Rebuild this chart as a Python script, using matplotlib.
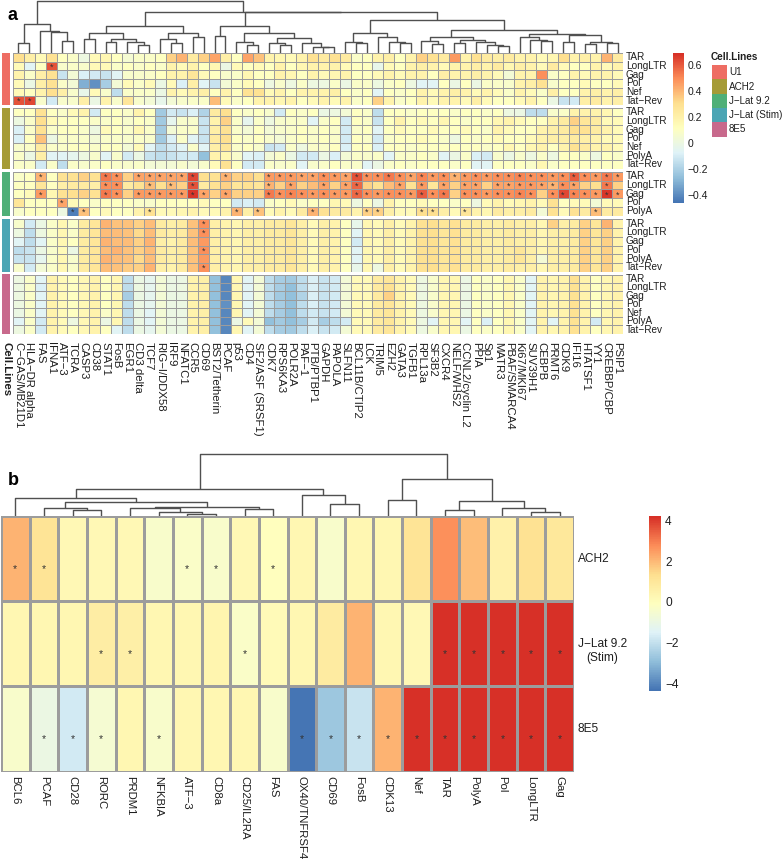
import matplotlib
matplotlib.use('Agg')
import matplotlib.pyplot as plt
from matplotlib.colors import LinearSegmentedColormap, Normalize
from matplotlib.patches import Rectangle
import numpy as np

# ---------------- DATA : panel a ----------------
genes_a = ["C−GAS/MB21D1", "HLA−DR alpha", "FAS", "IFNA1", "ATF−3", "TCRA", "CASP3", "CD38",
           "STAT1", "FosB", "EGR1", "CD3 delta", "TCF7", "RIG−I/DDX58", "IRF9", "NFATC1", "CCR5",
           "CD69", "BST2/Tetherin", "PCAF", "p53", "CD4", "SF2/ASF (SRSF1)", "CDK7", "RPS6KA3",
           "POLR2A", "PAF−1", "PTB/PTBP1", "GAPDH", "PAPOLA", "SLFN11", "BCL11B/CTIP2", "LCK",
           "TRIM5", "EZH2", "GATA3", "TGFB1", "RPL13a", "SF3B2", "CXCR4", "NELF/WHS2",
           "CCNL2/cyclin L2", "PPIA", "Sp1", "MATR3", "PBAF/SMARCA4", "Ki67/MKI67", "SUV39H1",
           "CEBPB", "PRMT6", "CDK9", "IFI16", "HTATSF1", "YY1", "CREBBP/CBP", "PSIP1"]

cell_lines = ["U1", "ACH2", "J−Lat 9.2", "J−Lat (Stim)", "8E5"]
cell_colors = ["#EE6D63", "#A59B37", "#4FAF78", "#4BA5B4", "#C8698C"]

rows_U1 = ["TAR", "LongLTR", "Gag", "Pol", "Nef", "Tat−Rev"]
rows_ACH2 = ["TAR", "LongLTR", "Gag", "Pol", "Nef", "PolyA", "Tat−Rev"]
rows_JLat = ["TAR", "LongLTR", "Gag", "Pol", "PolyA"]
rows_Stim = ["TAR", "LongLTR", "Gag", "Pol", "PolyA", "Tat−Rev"]
rows_8E5 = ["TAR", "LongLTR", "Gag", "Pol", "Nef", "PolyA", "Tat−Rev"]

vals_U1 = [
 [0.32,0.22,0.15,0.3,0.12,0.1,0.02,0.15,0.18,0.12,0.06,0.1,0.1,0.12,0.35,0.42,0.25,0.35,0.45,0.22,0.12,0.45,0.38,0.2,0.18,0.15,0.2,0.3,
  0.25,0.3,0.25,0.1,0.12,0.2,0.22,0.12,0.2,0.35,0.3,0.25,0.48,0.2,0.3,0.25,0.22,0.25,0.2,0.2,0.15,0.18,0.32,0.2,0.22,0.2,0.42,0.25],
 [0.15,-0.05,0.12,0.62,0.08,0.1,0.08,0.15,0.15,0.1,0.12,0.1,0.12,0.1,0.2,0.15,0.2,0.12,0.18,0.0,0.15,0.12,0.15,0.12,0.2,0.12,0.18,0.2,
  0.2,0.2,0.15,0.12,0.12,-0.02,0.15,0.12,0.2,0.22,0.2,0.15,0.2,0.2,0.22,0.2,0.25,0.18,0.22,0.2,0.15,0.25,0.15,0.12,0.12,0.2,0.15,0.2],
 [0.2,0.1,0.22,0.3,-0.12,0.05,-0.08,-0.1,-0.12,-0.05,0.08,0.08,0.1,0.12,0.2,0.2,0.28,0.15,0.12,0.08,0.1,0.18,0.12,0.12,0.2,0.18,0.12,0.2,
  0.15,0.18,0.2,0.12,0.12,0.15,0.2,0.15,0.2,0.2,0.12,0.22,0.2,0.2,0.22,0.2,0.15,0.05,0.2,0.2,0.5,0.1,0.12,0.2,0.15,0.2,0.2,0.15],
 [0.15,0.0,0.22,0.3,0.1,0.05,-0.3,-0.38,-0.2,0.05,0.15,0.1,0.15,0.0,0.15,-0.08,0.22,-0.05,-0.12,0.05,0.1,0.15,0.12,0.02,0.08,0.02,0.1,0.02,
  0.02,0.1,0.0,0.1,0.1,0.02,0.1,0.12,0.02,-0.05,-0.05,0.12,0.0,0.12,0.0,0.1,0.1,0.08,0.2,0.22,0.3,0.08,0.12,0.12,0.15,0.12,0.12,0.15],
 [0.15,0.12,0.2,0.32,0.22,0.08,-0.02,0.15,0.08,-0.15,0.1,0.1,0.1,0.0,0.2,0.15,0.2,0.22,0.12,0.2,0.12,0.3,0.3,0.15,0.2,0.12,0.2,0.2,
  0.2,0.22,0.12,0.1,0.12,-0.05,0.12,0.1,0.12,0.2,0.15,0.2,0.22,0.2,0.15,0.2,0.15,0.1,0.2,0.15,0.1,0.22,0.12,0.12,0.2,0.22,0.2,0.22],
 [0.62,0.65,0.08,-0.1,0.08,0.08,0.22,0.0,0.2,0.08,0.28,0.08,0.05,-0.02,0.05,0.08,0.1,0.1,0.4,0.15,0.1,0.12,0.2,0.2,0.18,0.2,0.12,0.15,
  0.2,0.15,0.2,0.1,0.12,0.35,0.2,0.1,0.12,0.2,0.15,0.2,0.2,0.15,0.22,0.15,0.12,0.12,0.15,0.2,0.12,0.0,-0.12,-0.1,0.22,0.25,0.2,0.22],
]

vals_ACH2 = [
 [0.12,0.12,0.3,0.12,0.1,0.15,0.2,-0.1,0.12,0.12,0.1,0.2,0.12,-0.22,-0.1,-0.12,-0.08,-0.18,0.25,0.32,0.12,0.1,0.12,0.08,-0.1,0.12,0.1,0.12,
  0.0,0.02,0.05,0.12,0.1,-0.15,0.12,0.12,0.1,0.12,0.12,0.12,0.1,0.12,0.12,0.1,0.12,0.02,0.0,-0.15,-0.15,0.08,0.1,0.2,0.2,0.2,0.18,0.12],
 [0.02,0.1,0.32,0.15,0.12,0.12,0.12,0.1,0.1,0.12,0.08,0.12,0.1,-0.22,-0.03,0.08,0.08,-0.12,0.2,0.35,0.1,-0.03,0.1,0.02,0.08,0.1,0.1,-0.05,
  0.1,0.12,-0.1,0.12,0.1,-0.12,0.12,0.2,0.12,0.15,0.12,0.18,0.12,0.1,0.12,0.12,0.18,0.2,0.15,0.12,0.12,0.2,0.25,0.35,0.28,0.25,0.15,0.15],
 [-0.08,0.1,0.3,0.1,0.12,0.12,0.1,0.02,0.15,0.12,0.1,0.18,0.1,-0.22,0.05,0.1,0.1,-0.12,0.22,0.3,0.1,0.05,0.12,0.05,0.08,0.1,0.12,0.1,
  0.12,0.1,-0.1,0.1,0.12,-0.05,0.12,0.15,0.12,0.12,0.15,0.12,0.12,0.15,0.12,0.1,0.2,0.15,0.12,0.12,0.2,0.22,0.25,0.32,0.3,0.25,0.2,0.15],
 [-0.08,0.12,0.38,0.0,0.1,0.1,0.1,0.05,0.1,0.1,0.08,0.1,0.08,-0.22,-0.08,0.1,-0.05,-0.12,0.25,0.32,0.12,0.1,0.12,0.08,0.05,0.1,0.12,0.1,
  0.12,0.1,-0.1,0.12,0.1,-0.1,0.1,0.12,0.12,0.15,0.12,0.1,0.02,0.12,0.1,0.12,0.15,0.12,0.12,0.15,0.2,0.22,0.22,0.25,0.22,0.2,0.15,0.15],
 [0.08,0.1,0.25,0.1,0.1,0.12,0.12,0.1,0.12,0.12,0.05,0.15,-0.05,-0.15,-0.1,-0.05,0.1,-0.05,0.22,0.28,0.1,0.12,0.08,-0.12,-0.1,0.1,0.02,0.1,
  0.1,0.12,-0.08,0.12,0.12,-0.08,0.12,0.12,0.1,0.12,0.12,0.12,0.12,0.12,0.12,0.1,0.12,0.18,0.12,0.18,0.2,0.12,0.2,0.3,0.25,0.2,0.2,0.15],
 [0.1,0.0,0.22,-0.05,-0.05,-0.03,0.02,0.08,-0.05,0.08,-0.1,0.0,-0.12,-0.15,-0.12,-0.1,-0.1,-0.25,0.2,0.18,0.08,-0.05,-0.08,0.05,0.1,0.0,-0.1,-0.1,
  0.0,-0.08,0.05,0.1,0.08,0.1,-0.05,0.1,0.1,0.12,0.1,-0.05,0.0,0.1,-0.08,-0.1,0.08,0.0,0.08,0.02,0.1,0.02,0.12,0.12,0.1,0.02,0.12,0.1],
 [0.1,0.1,-0.1,0.1,-0.15,0.1,0.08,0.1,0.12,0.1,0.08,0.1,0.05,0.05,0.05,0.08,0.05,0.08,0.15,0.3,0.12,-0.1,-0.1,0.1,0.08,0.1,-0.05,0.08,
  0.1,0.12,0.1,0.1,-0.05,0.0,0.1,0.12,0.1,0.12,0.12,0.12,0.1,0.12,-0.05,-0.05,0.12,0.12,0.12,0.1,0.18,0.1,0.12,0.12,0.12,0.12,0.12,0.12],
]

vals_JLat = [
 [0.1,0.12,0.42,0.12,0.3,0.3,0.35,0.3,0.55,0.5,0.35,0.45,0.45,0.45,0.45,0.45,0.65,0.32,0.3,0.42,0.35,0.35,0.32,0.48,0.48,0.48,0.45,0.45,
  0.5,0.48,0.45,0.62,0.5,0.5,0.55,0.5,0.45,0.52,0.48,0.5,0.42,0.48,0.5,0.48,0.5,0.5,0.52,0.5,0.5,0.48,0.5,0.6,0.5,0.48,0.55,0.48],
 [0.12,0.12,0.28,0.12,0.22,0.25,0.25,0.22,0.5,0.5,0.25,0.3,0.4,0.32,0.4,0.35,0.62,0.25,0.3,0.35,0.28,0.3,0.28,0.42,0.35,0.45,0.35,0.4,
  0.45,0.35,0.45,0.58,0.35,0.3,0.4,0.45,0.3,0.48,0.28,0.45,0.35,0.45,0.45,0.35,0.45,0.45,0.48,0.48,0.45,0.42,0.5,0.45,0.35,0.32,0.55,0.35],
 [0.12,0.15,0.48,0.18,0.3,0.32,0.35,0.3,0.55,0.5,0.35,0.48,0.48,0.48,0.48,0.48,0.68,0.45,0.35,0.45,0.35,0.35,0.35,0.55,0.5,0.52,0.5,0.48,
  0.5,0.48,0.48,0.58,0.5,0.48,0.5,0.5,0.48,0.6,0.5,0.55,0.35,0.5,0.5,0.48,0.5,0.5,0.52,0.5,0.35,0.5,0.65,0.52,0.5,0.48,0.68,0.48],
 [0.28,0.12,0.12,0.12,0.45,0.15,0.12,0.1,0.12,0.12,0.12,0.1,0.08,0.12,0.12,0.12,0.12,0.15,0.12,0.12,-0.1,-0.08,-0.1,0.1,0.12,0.15,0.1,0.12,
  0.12,0.18,0.15,0.02,0.12,0.0,0.2,0.12,0.12,0.15,0.12,0.12,0.1,0.12,0.02,0.15,0.2,0.15,0.18,0.2,0.15,0.3,0.12,0.15,0.15,0.05,0.15,0.15],
 [0.08,0.12,0.12,0.12,0.02,-0.42,0.38,0.12,0.15,0.12,0.12,0.2,0.3,0.15,0.15,0.18,0.2,0.15,0.15,0.2,0.42,0.22,0.38,0.15,0.2,0.15,0.25,0.42,
  0.3,0.25,0.25,0.2,0.35,0.35,0.22,0.15,0.15,0.32,0.32,0.22,0.15,0.28,0.2,0.18,0.25,0.22,0.22,0.25,0.05,0.3,0.15,0.3,0.25,0.4,0.25,0.25],
]

vals_Stim = [
 [0.08,-0.1,0.0,0.1,0.18,0.1,0.25,0.28,0.42,0.38,0.38,0.35,0.4,0.25,0.22,0.25,0.38,0.5,0.22,0.2,0.18,0.22,0.22,0.25,0.25,0.28,0.22,0.15,
  0.22,0.2,0.12,-0.02,0.18,0.15,0.22,0.15,0.2,0.3,0.32,0.28,0.3,0.25,0.25,0.22,0.22,0.25,0.22,0.22,0.18,0.35,0.22,0.25,0.35,0.28,0.42,0.2],
 [0.02,-0.15,0.02,0.1,0.18,0.1,0.25,0.28,0.4,0.4,0.38,0.33,0.4,0.25,0.22,0.25,0.38,0.5,0.22,0.2,0.18,0.22,0.22,0.25,0.25,0.28,0.22,0.15,
  0.22,0.2,0.12,-0.05,0.18,0.15,0.22,0.15,0.2,0.3,0.32,0.28,0.3,0.25,0.25,0.22,0.22,0.25,0.22,0.22,0.18,0.22,0.22,0.25,0.35,0.28,0.35,0.2],
 [-0.05,-0.15,-0.05,0.1,0.18,0.12,0.25,0.28,0.42,0.4,0.4,0.35,0.42,0.22,0.2,0.25,0.4,0.48,0.22,0.2,0.18,0.22,0.22,0.25,0.25,0.28,0.22,0.15,
  0.22,0.2,0.12,-0.1,0.18,0.15,0.22,0.15,0.2,0.3,0.32,0.28,0.3,0.25,0.25,0.22,0.22,0.25,0.22,0.22,0.18,0.22,0.22,0.25,0.35,0.28,0.35,0.2],
 [-0.15,-0.12,0.0,0.08,0.15,0.0,0.25,0.28,0.4,0.42,0.38,0.35,0.4,0.25,0.22,0.25,0.38,0.5,0.22,0.2,0.18,0.22,0.22,0.25,0.25,0.28,0.22,0.15,
  0.22,0.2,0.12,-0.05,0.18,0.15,0.22,0.15,0.2,0.3,0.32,0.28,0.3,0.25,0.25,0.22,0.22,0.25,0.28,0.22,0.18,0.22,0.22,0.25,0.35,0.28,0.35,0.2],
 [-0.12,-0.12,-0.03,0.1,0.18,0.08,0.25,0.28,0.42,0.4,0.38,0.33,0.4,0.25,0.22,0.25,0.38,0.48,0.22,0.2,0.18,0.22,0.22,0.25,0.25,0.28,0.22,0.15,
  0.22,0.2,0.12,-0.05,0.18,0.15,0.22,0.15,0.2,0.3,0.32,0.28,0.3,0.25,0.25,0.22,0.22,0.25,0.28,0.22,0.05,0.22,0.22,0.25,0.35,0.28,0.35,0.2],
 [0.08,-0.1,0.05,0.1,0.18,0.1,0.25,0.28,0.4,0.38,0.36,0.35,0.42,0.22,0.2,0.25,0.38,0.5,0.22,0.2,0.18,0.22,0.22,0.25,0.25,0.28,0.22,0.15,
  0.22,0.2,0.12,-0.02,0.18,0.02,0.22,0.15,0.2,0.3,0.32,0.28,0.3,0.25,0.25,0.22,0.22,0.25,0.22,0.22,0.18,0.22,0.22,0.25,0.35,0.28,0.35,0.2],
]

vals_8E5 = [
 [0.02,0.1,-0.05,0.2,0.15,0.12,0.17,0.2,0.12,0.18,-0.15,0.0,-0.03,0.05,0.0,0.0,0.2,0.22,-0.25,-0.4,0.18,-0.05,0.05,-0.15,-0.2,-0.22,-0.15,-0.08,
  -0.12,-0.1,0.05,0.15,0.15,0.25,0.28,0.2,0.15,0.02,0.08,0.18,0.18,0.0,0.12,0.1,0.12,0.18,0.1,-0.05,0.2,0.18,0.2,0.3,0.2,0.12,0.18,0.2],
 [0.02,0.1,-0.08,0.2,0.15,0.12,0.17,0.2,0.12,0.18,-0.15,0.02,-0.03,0.05,0.0,0.02,0.2,0.22,-0.25,-0.4,0.18,-0.05,0.05,-0.15,-0.2,-0.25,-0.15,-0.08,
  -0.12,-0.1,0.05,0.15,0.15,0.25,0.3,0.2,0.15,0.02,0.08,0.18,0.18,0.0,0.12,0.1,0.12,0.18,0.1,-0.05,0.2,0.18,0.2,0.3,0.2,0.12,0.18,0.2],
 [0.02,0.1,-0.05,0.2,0.15,0.12,0.17,0.2,0.12,0.18,-0.2,0.0,-0.03,0.05,0.0,0.0,0.2,0.22,-0.25,-0.4,0.18,-0.05,0.05,-0.15,-0.22,-0.25,-0.18,-0.08,
  -0.12,-0.1,0.05,0.15,0.15,0.25,0.35,0.2,0.15,0.02,0.08,0.18,0.18,0.0,0.12,0.1,0.12,0.18,0.1,-0.05,0.2,0.18,0.2,0.3,0.2,0.12,0.18,0.2],
 [0.02,0.1,-0.05,0.2,0.15,0.12,0.17,0.2,0.12,0.18,-0.15,0.0,-0.03,0.05,0.0,0.0,0.2,0.22,-0.25,-0.38,0.18,-0.05,0.05,-0.15,-0.2,-0.25,-0.15,-0.08,
  -0.12,-0.1,0.05,0.15,0.15,0.25,0.28,0.2,0.15,0.02,0.08,0.18,0.18,0.0,0.12,0.1,0.12,0.18,0.1,-0.05,0.2,0.18,0.2,0.3,0.2,0.12,0.18,0.2],
 [0.0,0.1,-0.05,0.2,0.15,0.12,0.17,0.2,0.1,0.18,-0.15,0.0,-0.05,0.05,0.0,0.0,0.2,0.22,-0.25,-0.4,0.18,-0.05,0.05,-0.15,-0.2,-0.25,-0.15,-0.1,
  -0.12,-0.1,0.05,0.15,0.15,0.25,0.28,0.2,0.15,0.02,0.08,0.18,0.18,0.0,0.12,0.1,0.12,0.18,0.1,-0.05,0.2,0.18,0.2,0.3,0.2,0.12,0.18,0.2],
 [-0.05,0.1,-0.1,0.2,0.15,0.02,0.17,0.2,0.0,0.18,-0.15,0.0,-0.05,0.05,0.0,0.0,0.2,0.22,-0.25,-0.4,0.0,0.15,0.05,-0.25,-0.22,-0.25,-0.2,-0.1,
  -0.2,-0.15,-0.1,0.15,0.15,0.25,0.28,0.2,0.15,0.02,-0.05,0.18,0.18,-0.05,0.12,-0.08,0.12,0.18,0.1,-0.05,0.2,-0.05,0.2,0.3,0.2,-0.1,0.18,0.2],
 [0.02,0.1,-0.1,0.2,0.15,0.12,0.17,0.2,0.12,-0.05,-0.15,0.0,-0.03,0.05,0.0,0.0,0.2,0.22,-0.25,-0.4,0.18,-0.05,0.05,-0.15,-0.2,-0.22,-0.15,-0.08,
  -0.12,-0.1,0.05,0.15,0.15,0.25,0.28,0.2,0.15,0.02,0.08,0.18,0.18,0.0,0.12,0.1,0.12,0.18,0.1,-0.05,0.2,0.18,0.2,0.3,0.2,0.12,0.18,0.2],
]

# significant cells (row index -> list of column indices)
sig_U1 = {1: [3], 5: [0, 1]}
sig_ACH2 = {}
sig_JLat = {
 0: [2,8,9,11,12,13,14,15,16,19,23,24,25,26,27,28,29,30,31,32,33,34,35,36,37,38,39,40,41,
     42,43,44,45,46,47,48,49,50,51,52,53,54,55],
 1: [8,9,12,14,16,23,25,28,30,31,35,37,39,41,42,44,45,46,47,48,49,50,51,54],
 2: [2,8,9,11,12,13,14,15,16,17,19,23,24,25,26,27,28,29,30,31,32,33,34,35,36,37,38,39,
     41,42,43,44,45,46,47,49,50,51,52,53,54,55],
 3: [4],
 4: [5,6,12,20,22,27,32,33,37,38,41,53],
}
sig_Stim = {0: [17], 1: [17], 3: [17], 5: [17]}
sig_8E5 = {}

# column dendrogram of panel a: [left, right, merge height]
dendro_a = [
    [[0, 1, 9.7], [2, [3, [4, 5, 12.3], 20.7], 22.3], 28.7],
    [
        [[[6, 7, 13.7], [[8, 9, 11.0], [10, [11, 12, 8.0], 11.3], 13.7], 19.7],
         [[13, [14, 15, 9.7], 13.7], [16, 17, 15.7], 19.7], 27.0],
        [
            [[18, 19, 17.0],
             [[20, [21, 22, 8.0], 11.3],
              [[23, [24, 25, 8.0], 9.7], [26, [27, [28, 29, 5.7], 6.3], 10.3], 15.3], 19.7], 27.0],
            [
                [[30, [31, 32, 9.7], 11.3], [33, [34, [35, 36, 9.7], 11.3], 16.3], 19.7],
                [[[37, [38, 39, 9.0], 12.0], [[40, 41, 10.0], [42, [43, [44, 45, 7.0], 8.0], 11.0], 13.0], 16.0],
                 [[46, [47, [48, 49, 11.7], 13.0], 16.0], [[50, 51, 10.7], [[52, 53, 9.0], [54, 55, 10.3], 10.7], 17.7], 19.0],
                 23.0],
                33.0],
            40.7],
        41.3],
    52.0]

# ---------------- DATA : panel b ----------------
genes_b = ["BCL6", "PCAF", "CD28", "RORC", "PRDM1", "NFKBIA", "ATF−3", "CD8a", "CD25/IL2RA", "FAS",
           "OX40/TNFRSF4", "CD69", "FosB", "CDK13", "Nef", "TAR", "PolyA", "Pol", "LongLTR", "Gag"]
lines_b = ["ACH2", "J−Lat 9.2\n(Stim)", "8E5"]
vals_b = [
    [2.2, 1.2, 0.3, 0.3, 0.3, -0.3, -0.2, -0.3, 0.3, 0.0, 0.4, -0.3, 0.4, 0.4, 1.2, 2.8, 2.0, 0.6, 1.3, 1.1],
    [0.4, 0.4, 0.4, 0.8, 0.7, 0.4, 0.4, 0.5, -0.2, 0.2, 0.4, 0.9, 2.2, 0.4, 0.3, 4.2, 4.2, 4.2, 4.2, 4.2],
    [-0.3, -0.9, -1.7, -0.5, 0.4, -0.3, 0.4, 0.4, 0.4, -0.3, -4.2, -2.6, -1.8, 2.2, 4.2, 4.2, 4.2, 4.2, 4.2, 4.2],
]
sig_b = {0: [0, 1, 6, 7, 9],
         1: [3, 4, 8, 15, 16, 17, 18, 19],
         2: [1, 2, 3, 5, 10, 11, 12, 13, 14, 15, 16, 17, 18, 19]}
dendro_b = [
    [[0, [[1, [2, 3, 6.0], 7.7], [[4, [5, [6, 7, 2.0], 4.3], 7.7], [8, 9, 7.0], 9.3], 13.7], 18.3],
     [10, [11, 12, 11.7], 21.0], 27.0],
    [[13, 14, 16.0], [[15, 16, 6.0], [17, [18, 19, 4.3], 7.7], 15.0], 37.0],
    62.0]

# ---------------- STYLE ----------------
W, H = 784, 861
fig = plt.figure(figsize=(W / 100, H / 100), dpi=100)
FONT = 'Liberation Sans'
TXT = '#1e1e1e'

cmap = LinearSegmentedColormap.from_list(
    'rdylbu_r', ['#4575B4', '#91BFDB', '#E0F3F8', '#FFFFBF', '#FEE090', '#FC8D59', '#D73027'], N=100)
BORDER = '#9c9c9c'
DCOL = '#505050'


def ax_px(x, y, w, h):
    return fig.add_axes([x / W, 1 - (y + h) / H, w / W, h / H])


def ftext(x, y, s, **kw):
    kw.setdefault('family', FONT)
    kw.setdefault('color', TXT)
    return fig.text(x / W, 1 - y / H, s, **kw)


def draw_tree(ax, node, lw):
    if isinstance(node, int):
        return node + 0.5, 0.0
    l, r, h = node
    xl, hl = draw_tree(ax, l, lw)
    xr, hr = draw_tree(ax, r, lw)
    ax.plot([xl, xl, xr, xr], [hl, h, h, hr], color=DCOL, lw=lw, solid_capstyle='butt')
    return (xl + xr) / 2, h


def heat(ax, M, norm, sig, lw, star_fs):
    M = np.array(M, dtype=float)
    nr, nc = M.shape
    ax.pcolormesh(np.arange(nc + 1), np.arange(nr + 1), M, cmap=cmap, norm=norm,
                  edgecolors=BORDER, linewidth=lw)
    for r, cs in sig.items():
        for c in cs:
            ax.text(c + 0.5, r + 0.62, '*', ha='center', va='center', fontsize=star_fs,
                    color='#333333', family=FONT)
    ax.set_xlim(0, nc)
    ax.set_ylim(nr, 0)
    ax.axis('off')


# ---------------- PANEL A ----------------
norm_a = Normalize(vmin=-0.45, vmax=0.70)
HX0, HX1 = 13.0, 623.0
cw = (HX1 - HX0) / len(genes_a)
groups = [
    (vals_U1, rows_U1, sig_U1, 53.0, 105.0),
    (vals_ACH2, rows_ACH2, sig_ACH2, 107.8, 168.6),
    (vals_JLat, rows_JLat, sig_JLat, 172.0, 215.5),
    (vals_Stim, rows_Stim, sig_Stim, 219.3, 271.7),
    (vals_8E5, rows_8E5, sig_8E5, 274.5, 334.0),
]
for gi, (M, rn, sg, top, bot) in enumerate(groups):
    ax = ax_px(HX0, top, HX1 - HX0, bot - top)
    heat(ax, M, norm_a, sg, 0.6, 6.5)
    fig.add_artist(Rectangle((2 / W, 1 - bot / H), 8 / W, (bot - top) / H,
                             transform=fig.transFigure, facecolor=cell_colors[gi], edgecolor='none'))
    rh = (bot - top) / len(rn)
    for k, name in enumerate(rn):
        ftext(626, top + rh * (k + 0.5), name, ha='left', va='center', fontsize=7.2)

for i, g in enumerate(genes_a):
    ftext(HX0 + cw * (i + 0.5), 342, g, rotation=-90, rotation_mode='anchor',
          ha='left', va='center', fontsize=8.2)
ftext(6, 342, 'Cell.Lines', rotation=-90, rotation_mode='anchor', ha='left', va='center',
      fontsize=8.2, fontweight='bold')

axd = ax_px(HX0, 0, HX1 - HX0, 53)
draw_tree(axd, dendro_a, 1.0)
axd.set_xlim(0, len(genes_a))
axd.set_ylim(0, 53)
axd.axis('off')

# colour bar a
cb_top, cb_h = 53.0, 150.0
axc = ax_px(673, cb_top, 11, cb_h)
axc.imshow(np.linspace(0.70, -0.45, 200)[:, None], aspect='auto', cmap=cmap, norm=norm_a,
           extent=[0, 1, -0.45, 0.70])
axc.axis('off')
for v, lab in [(0.6, '0.6'), (0.4, '0.4'), (0.2, '0.2'), (0.0, '0'), (-0.2, '−0.2'), (-0.4, '−0.4')]:
    ftext(688, cb_top + (0.70 - v) / 1.15 * cb_h, lab, ha='left', va='center', fontsize=7.5)

# legend for cell lines
ftext(711, 57, 'Cell.Lines', ha='left', va='center', fontsize=7.2, fontweight='bold')
for k, (nm, col) in enumerate(zip(cell_lines, cell_colors)):
    y0 = 65 + 14.3 * k
    fig.add_artist(Rectangle((712 / W, 1 - (y0 + 14.3) / H), 15 / W, 14.3 / H,
                             transform=fig.transFigure, facecolor=col, edgecolor='none'))
    ftext(729, y0 + 7.2, nm, ha='left', va='center', fontsize=7.1)

ftext(8, 16, 'a', ha='left', va='center', fontsize=13, fontweight='bold', color='black')

# ---------------- PANEL B ----------------
vmax_b = 4.27
norm_b = Normalize(vmin=-vmax_b, vmax=vmax_b)
BX0, BX1, BY0, BY1 = 1.0, 574.0, 516.0, 771.5
axb = ax_px(BX0, BY0, BX1 - BX0, BY1 - BY0)
heat(axb, vals_b, norm_b, sig_b, 1.0, 7.5)
bcw = (BX1 - BX0) / len(genes_b)
brh = (BY1 - BY0) / len(lines_b)

for k, nm in enumerate(lines_b):
    yc = BY0 + brh * (k + 0.5) + (7 if '\n' in nm else 0)
    ftext(578, yc, nm, ha='left', va='center', multialignment='center',
          fontsize=8.6, linespacing=1.25)

for j, g in enumerate(genes_b):
    ftext(BX0 + bcw * (j + 0.5), 776, g, rotation=-90, rotation_mode='anchor',
          ha='left', va='center', fontsize=8.2)

axdb = ax_px(BX0, 440, BX1 - BX0, BY0 - 440)
draw_tree(axdb, dendro_b, 1.0)
axdb.set_xlim(0, len(genes_b))
axdb.set_ylim(0, BY0 - 440)
axdb.axis('off')

cbb_top, cbb_h = 516.0, 175.0
axcb = ax_px(649, cbb_top, 12, cbb_h)
axcb.imshow(np.linspace(vmax_b, -vmax_b, 200)[:, None], aspect='auto', cmap=cmap, norm=norm_b,
            extent=[0, 1, -vmax_b, vmax_b])
axcb.axis('off')
for v, lab in [(4, '4'), (2, '2'), (0, '0'), (-2, '−2'), (-4, '−4')]:
    ftext(665, cbb_top + (vmax_b - v) / (2 * vmax_b) * cbb_h, lab, ha='left', va='center',
          fontsize=8.6)

ftext(8, 481, 'b', ha='left', va='center', fontsize=13, fontweight='bold', color='black')

fig.savefig('out.png', dpi=100)
